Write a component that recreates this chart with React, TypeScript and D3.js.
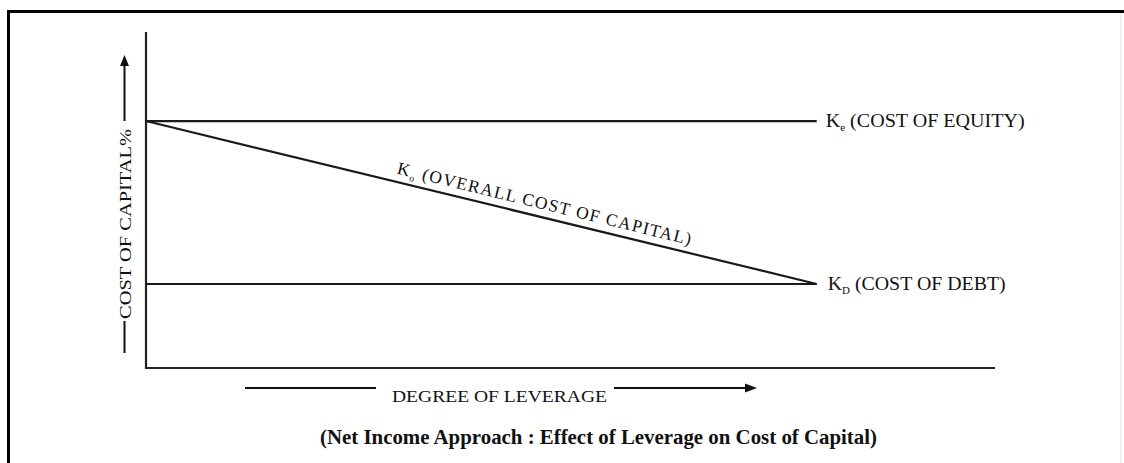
import { useEffect, useRef } from 'react'
import * as d3 from 'd3'

const W = 1124
const H = 463

// degree of leverage (x) and cost of capital % (y)
const leverage = [0, 7.9]
const costOfEquity = [14.7, 14.7]
const costOfDebt = [5.0, 5.0]
const overallCost = [14.7, 5.0]

const keLabel = { k: 'K', sub: 'e', text: ' (COST OF EQUITY)' }
const kdLabel = { k: 'K', sub: 'D', text: ' (COST OF DEBT)' }
const koLabel = { k: 'K', sub: 'o', text: ' (OVERALL COST OF CAPITAL)' }
const yTitle = 'COST OF CAPITAL%'
const xTitle = 'DEGREE OF LEVERAGE'
const caption = '(Net Income Approach : Effect of Leverage on Cost of Capital)'

export default function App() {
  const svgRef = useRef<SVGSVGElement>(null)

  useEffect(() => {
    if (!svgRef.current) return
    const svg = d3.select(svgRef.current)
    svg.selectAll('*').remove()

    const font = '"Liberation Serif", "Times New Roman", serif'
    const x = d3.scaleLinear().domain([0, 10]).range([146, 995])
    const y = d3.scaleLinear().domain([0, 20]).range([368, 32])

    svg.append('rect').attr('width', W).attr('height', H).attr('fill', '#fff')

    // frame of the scanned figure
    svg.append('line').attr('x1', 7).attr('x2', W).attr('y1', 11.5).attr('y2', 11.5)
      .attr('stroke', '#000').attr('stroke-width', 3)
    svg.append('line').attr('x1', 8.5).attr('x2', 8.5).attr('y1', 10).attr('y2', H)
      .attr('stroke', '#000').attr('stroke-width', 3)
    svg.append('line').attr('x1', 1121).attr('x2', 1121).attr('y1', 13).attr('y2', H)
      .attr('stroke', '#e4e4e4').attr('stroke-width', 1)

    // axes
    const axes = svg.append('g').attr('stroke', '#222').attr('stroke-width', 2.2).attr('fill', 'none')
    axes.append('path')
      .attr('d', `M${x(0)},${y(20)}V${y(0)}H${x(10)}`)

    const line = d3.line<number>()
      .x((_, i) => x(leverage[i]))
      .y(d => y(d))

    const g = svg.append('g').attr('fill', 'none').attr('stroke', '#1a1a1a').attr('stroke-width', 2.2)
    g.append('path').attr('d', line(costOfEquity) ?? '')
    g.append('path').attr('d', line(costOfDebt) ?? '')
    g.append('path').attr('d', line(overallCost) ?? '')

    const addLabel = (sel: d3.Selection<SVGTextElement, unknown, null, undefined>, lab: { k: string, sub: string, text: string }, size: number) => {
      sel.append('tspan').text(lab.k)
      sel.append('tspan').attr('font-size', size * 0.55).attr('dy', 4).text(lab.sub)
      sel.append('tspan').attr('dy', -4).text(lab.text)
    }

    const ke = svg.append('text')
      .attr('x', x(leverage[1]) + 9).attr('y', y(costOfEquity[1]) + 6)
      .attr('font-family', font).attr('font-size', 18.5).attr('fill', '#111')
      .attr('textLength', 199).attr('lengthAdjust', 'spacingAndGlyphs')
    addLabel(ke, keLabel, 18.5)

    const kd = svg.append('text')
      .attr('x', x(leverage[1]) + 11).attr('y', y(costOfDebt[1]) + 6)
      .attr('font-family', font).attr('font-size', 18.5).attr('fill', '#111')
      .attr('textLength', 178).attr('lengthAdjust', 'spacingAndGlyphs')
    addLabel(kd, kdLabel, 18.5)

    // label along the overall cost line
    const x0 = x(leverage[0]), y0 = y(overallCost[0])
    const x1 = x(leverage[1]), y1 = y(overallCost[1])
    const ang = Math.atan2(y1 - y0, x1 - x0) * 180 / Math.PI
    const t = 0.59
    const ko = svg.append('text')
      .attr('transform', `translate(${x0 + (x1 - x0) * t},${y0 + (y1 - y0) * t}) rotate(${ang})`)
      .attr('y', -8)
      .attr('text-anchor', 'middle')
      .attr('font-family', font).attr('font-size', 17.5).attr('fill', '#111')
      .attr('letter-spacing', 1.3)
    addLabel(ko, koLabel, 17.5)

    // y axis title with arrow
    const yt = svg.append('g').attr('stroke', '#111').attr('stroke-width', 2)
    yt.append('line').attr('x1', 124.5).attr('x2', 124.5).attr('y1', 64).attr('y2', 121)
    yt.append('path').attr('d', 'M124.5,55L120,66H129Z').attr('fill', '#111').attr('stroke', 'none')
    yt.append('line').attr('x1', 124.5).attr('x2', 124.5).attr('y1', 321).attr('y2', 353)
    svg.append('text')
      .attr('transform', 'translate(131,224) rotate(-90)')
      .attr('text-anchor', 'middle')
      .attr('font-family', font).attr('font-size', 17.5).attr('fill', '#111')
      .attr('textLength', 190).attr('lengthAdjust', 'spacingAndGlyphs')
      .text(yTitle)

    // x axis title with arrow
    const xt = svg.append('g').attr('stroke', '#111').attr('stroke-width', 2)
    xt.append('line').attr('x1', 245).attr('x2', 376).attr('y1', 388).attr('y2', 388)
    xt.append('line').attr('x1', 614).attr('x2', 748).attr('y1', 388).attr('y2', 388)
    xt.append('path').attr('d', 'M757,388L745,383.5V392.5Z').attr('fill', '#111').attr('stroke', 'none')
    svg.append('text')
      .attr('x', 392).attr('y', 402)
      .attr('font-family', font).attr('font-size', 17.5).attr('fill', '#111')
      .attr('textLength', 215).attr('lengthAdjust', 'spacingAndGlyphs')
      .text(xTitle)

    svg.append('text')
      .attr('x', 320).attr('y', 444)
      .attr('font-family', font).attr('font-size', 21).attr('font-weight', 'bold').attr('fill', '#111')
      .attr('textLength', 557).attr('lengthAdjust', 'spacingAndGlyphs')
      .text(caption)
  }, [])

  return (
    <svg ref={svgRef} width={W} height={H}
      style={{ position: 'absolute', left: 0, top: 0, display: 'block' }} />
  )
}
